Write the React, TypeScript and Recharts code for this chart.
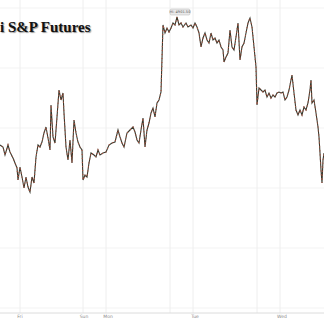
import React from "react";
import { LineChart, Line, XAxis, YAxis, ReferenceLine, ReferenceDot } from "recharts";

const times = [
  0, 3, 5, 8, 10, 13, 17, 18, 20, 22, 24, 26, 28, 30, 32, 34, 36, 38, 40, 42,
  44, 46, 48, 50, 51, 53, 55, 57, 59, 61, 63, 64, 66, 68, 70, 72, 74, 76, 78, 80,
  82, 83, 85, 87, 89, 91, 94, 96, 98, 100, 103, 106, 109, 112, 115, 118, 120, 122, 124, 127,
  130, 133, 135, 137, 139, 141, 143, 145, 147, 149, 151, 153, 155, 157, 159, 161, 163, 165, 167, 169,
  171, 173, 175, 177, 179, 181, 183, 186, 188, 191, 193, 195, 197, 199, 201, 203, 205, 207, 209, 211,
  213, 215, 217, 219, 221, 223, 224, 226, 228, 230, 232, 234, 236, 238, 240, 242, 244, 246, 248, 250,
  252, 254, 256, 257, 259, 261, 263, 265, 267, 269, 271, 273, 275, 277, 279, 281, 283, 285, 287, 289,
  291, 292, 294, 296, 298, 300, 302, 304, 306, 308, 310, 311, 312, 314, 316, 318, 319, 320, 321, 322,
  323, 324,
];

const prices = [
  4837.5, 4836.5, 4832.5, 4837.5, 4834, 4831, 4826, 4820, 4826.5, 4821.5, 4816, 4821.5, 4816.5, 4814, 4821.5, 4818.5, 4831.5, 4837.5, 4836.5, 4839,
  4843.5, 4846.5, 4841, 4835, 4857.5, 4841.5, 4838.5, 4851.5, 4865, 4860, 4863.5, 4853.5, 4836.5, 4830, 4840, 4828.5, 4850, 4843.5, 4839, 4836.5,
  4835, 4820, 4822.5, 4821.5, 4828.5, 4833.5, 4832.5, 4831.5, 4835, 4832.5, 4833.5, 4834, 4837.5, 4838.5, 4839, 4845, 4841.5, 4838.5, 4836.5, 4843.5,
  4845, 4846.5, 4844, 4840, 4838.5, 4845, 4851, 4836.5, 4845, 4848.5, 4853.5, 4856, 4851.5, 4858.5, 4860, 4864, 4897.5, 4893.5, 4896, 4894,
  4896, 4898.5, 4897.5, 4901.5, 4897.5, 4898.5, 4896.5, 4898.5, 4896.5, 4897.5, 4896, 4898.5, 4896.5, 4893.5, 4886.5, 4891, 4893.5, 4890, 4888.5, 4893.5,
  4890, 4891, 4888.5, 4890, 4886.5, 4885, 4879, 4881.5, 4883.5, 4895, 4886.5, 4885, 4891.5, 4898.5, 4880, 4886.5, 4888.5, 4893.5, 4898.5, 4901,
  4896.5, 4886.5, 4876.5, 4857.5, 4866, 4865, 4864, 4865, 4861.5, 4863.5, 4861, 4862.5, 4861.5, 4863.5, 4864, 4863.5, 4864, 4860, 4861.5, 4865,
  4870, 4872.5, 4863.5, 4855, 4852.5, 4855, 4852.5, 4856.5, 4855, 4858.5, 4865, 4870, 4858.5, 4860, 4853.5, 4846.5, 4841.5, 4833.5, 4825, 4818.5,
  4830, 4833.5,
];

const dayTicks = [20, 84, 108, 195, 282];
const dayLabels = ["Fri", "Sun", "Mon", "Tue", "Wed"];
const gridTimes = [20, 83, 106, 170, 193, 257, 280];
const gridPrices = [4906, 4876, 4846, 4816, 4786, 4756];
const title = "i S&P Futures";
const hiTime = 177;
const hiPrice = 4901.5;
const hiLabel = "Hi: 4901.50";

const data = times.map((t, i) => ({ t, p: prices[i] }));

const DayTick = (props: any) => {
  const { x, y, payload } = props;
  const idx = dayTicks.indexOf(payload.value);
  return (
    <text x={x} y={y + 5} textAnchor="middle" fontSize={4.5} fill="#8a8a8a" fontFamily="DejaVu Sans, sans-serif">
      {dayLabels[idx]}
    </text>
  );
};

const HiLabel = (props: any) => {
  const { viewBox } = props;
  const cx = viewBox.x + 3;
  const cy = viewBox.y - 5;
  return (
    <g>
      <rect x={cx - 10} y={cy - 3} width={20} height={6} rx={1.5} fill="#e9e9e9" stroke="#b5b5b5" strokeWidth={0.5} />
      <text x={cx} y={cy + 1.4} textAnchor="middle" fontSize={3.6} fill="#555" fontFamily="DejaVu Sans, sans-serif">
        {hiLabel}
      </text>
    </g>
  );
};

export default function App() {
  return (
    <div style={{ position: "absolute", left: 0, top: 0, width: 324, height: 319, background: "#fff", overflow: "hidden" }}>
      <LineChart width={324} height={319} data={data} margin={{ top: 0, right: 0, bottom: 0, left: 0 }}>
        <XAxis
          dataKey="t"
          type="number"
          domain={[0, 324]}
          ticks={dayTicks}
          tick={<DayTick />}
          tickLine={false}
          tickSize={0}
          tickMargin={0}
          height={6}
          axisLine={{ stroke: "#dcdcdc" }}
          interval={0}
          allowDataOverflow
        />
        <YAxis hide domain={[4753.5, 4910]} allowDataOverflow />
        {gridPrices.map((v) => (
          <ReferenceLine key={"h" + v} y={v} stroke="#f3f3f3" strokeWidth={1} />
        ))}
        {gridTimes.map((v) => (
          <ReferenceLine key={"v" + v} x={v} stroke="#eeeeee" strokeWidth={1} />
        ))}
        <Line
          type="linear"
          dataKey="p"
          stroke="#3a3a2e"
          strokeWidth={1.1}
          dot={false}
          activeDot={false}
          isAnimationActive={false}
        />
        <Line
          type="linear"
          dataKey="p"
          stroke="#b0503e"
          strokeWidth={1.1}
          strokeDasharray="1 3"
          strokeDashoffset={-6}
          dot={false}
          activeDot={false}
          isAnimationActive={false}
        />
        <ReferenceDot x={hiTime} y={hiPrice} r={0} label={<HiLabel />} />
      </LineChart>
      <div
        style={{
          position: "absolute",
          left: 0,
          top: 19,
          fontFamily: "'Liberation Serif', 'Times New Roman', serif",
          fontWeight: "bold",
          fontSize: 15,
          color: "#111",
          textShadow: "1px 1px 1px #999",
          whiteSpace: "nowrap",
          lineHeight: "16px",
        }}
      >
        {title}
      </div>
    </div>
  );
}
